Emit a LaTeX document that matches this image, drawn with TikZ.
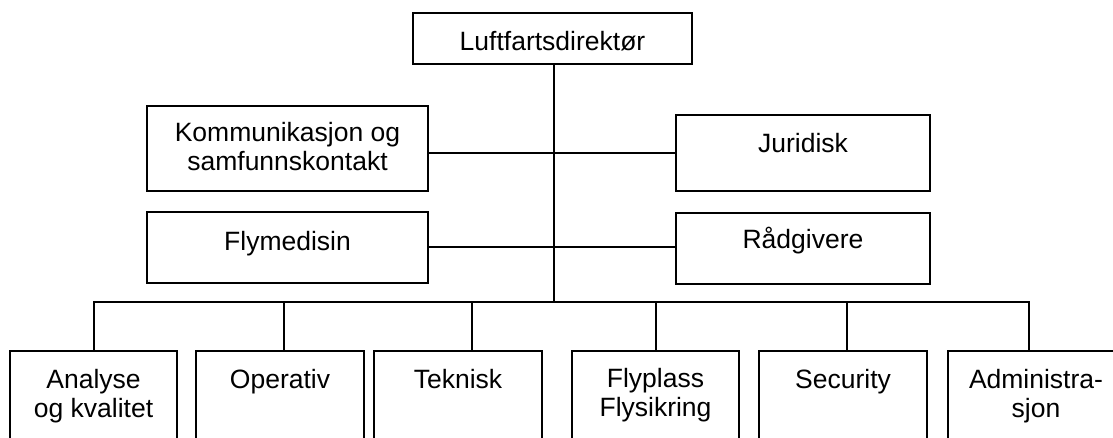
\documentclass[tikz,border=0pt]{standalone}
\usepackage{fontspec}
\setmainfont{Liberation Sans}
\begin{document}
\begin{tikzpicture}[x=1pt,y=-1pt,
  line width=1.8pt,
  box/.style={draw=black, rectangle, inner sep=0pt, outer sep=0pt, line width=1.8pt},
  txt/.style={anchor=base, align=center, inner sep=0pt, font=\fontsize{26.5}{29}\selectfont},
  link/.style={draw=black, line width=1.8pt}]
\useasboundingbox (0,0) rectangle (1113,437);
\clip (0,0) rectangle (1113,437);
% boxes
\node[box, minimum width=279pt, minimum height=51pt] (d) at (552.5,38.5) {};
\node[box, minimum width=281pt, minimum height=85pt] (k) at (287.5,148.5) {};
\node[box, minimum width=254pt, minimum height=76pt] (j) at (803,153) {};
\node[box, minimum width=281pt, minimum height=71pt] (f) at (287.5,247.5) {};
\node[box, minimum width=254pt, minimum height=71pt] (r) at (803,248.5) {};
\node[box, minimum width=167pt, minimum height=120pt] (a) at (93.5,411) {};
\node[box, minimum width=168pt, minimum height=120pt] (o) at (280,411) {};
\node[box, minimum width=168pt, minimum height=120pt] (t) at (458,411) {};
\node[box, minimum width=167pt, minimum height=120pt] (p) at (655.5,411) {};
\node[box, minimum width=168pt, minimum height=120pt] (s) at (843,411) {};
\node[box, minimum width=180pt, minimum height=120pt] (ad) at (1038,411) {};
% texts (multi-line nodes: base = baseline of last line)
\node[txt] (td) at (552.5,50) {Luftfartsdirektør};
\node[txt] (tk) at (287.5,170) {Kommunikasjon og\\samfunnskontakt};
\node[txt] (tj) at (803,152) {Juridisk};
\node[txt] (tf) at (287.5,250) {Flymedisin};
\node[txt] (tr) at (803,248) {Rådgivere};
\node[txt] (ta) at (93.5,417) {Analyse\\og kvalitet};
\node[txt] (to) at (280,388) {Operativ};
\node[txt] (tt) at (458,388) {Teknisk};
\node[txt] (tp) at (655.5,416) {Flyplass\\Flysikring};
\node[txt] (ts) at (843,388) {Security};
\node[txt] (tad) at (1036,417) {Administra-\\sjon};
% connector coordinates
\coordinate (hub) at (554,302);
\coordinate (h1) at (554,153);
\coordinate (h2) at (554,247);
\coordinate (busL) at (94,302);
\coordinate (busR) at (1029,302);
\coordinate (bo) at (284,302);
\coordinate (bt) at (472,302);
\coordinate (bp) at (656,302);
\coordinate (bs) at (847,302);
% connectors
\draw[link] (d.south -| hub) -- (hub);
\draw[link] (k.east |- h1) -- (j.west |- h1);
\draw[link] (f.east |- h2) -- (r.west |- h2);
\draw[link] (a.north -| busL) -- (busL) -- (busR) -- (ad.north -| busR);
\draw[link] (bo) -- (o.north -| bo);
\draw[link] (bt) -- (t.north -| bt);
\draw[link] (bp) -- (p.north -| bp);
\draw[link] (bs) -- (s.north -| bs);
\end{tikzpicture}
\end{document}
